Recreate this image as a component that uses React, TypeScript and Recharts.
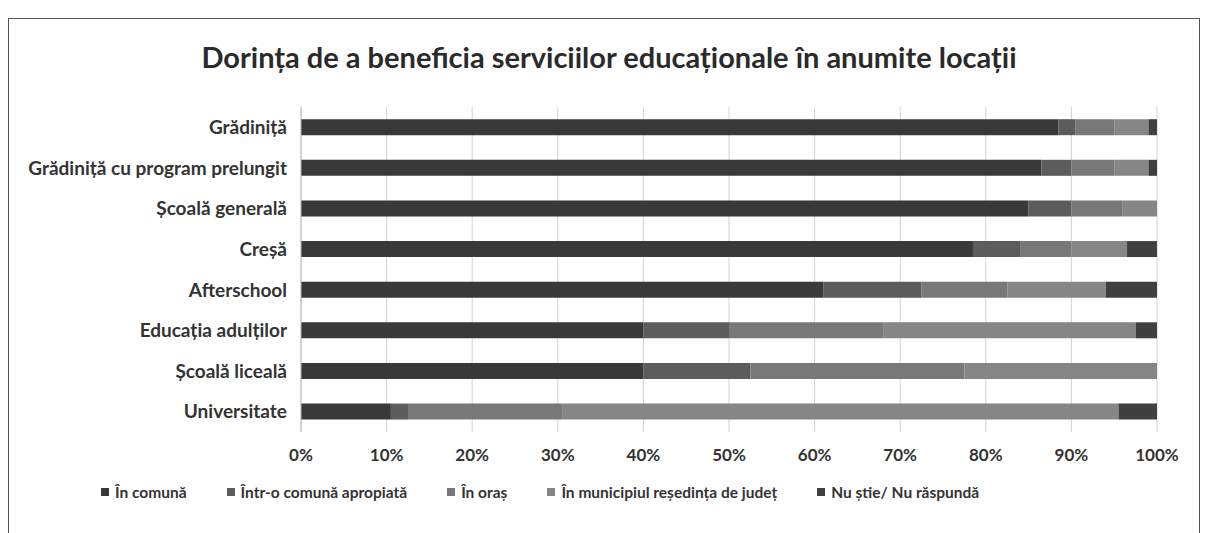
import { BarChart, Bar, XAxis, YAxis, CartesianGrid, Legend } from "recharts";

const categories = [
  "Grădiniță",
  "Grădiniță cu program prelungit",
  "Școală generală",
  "Creșă",
  "Afterschool",
  "Educația adulților",
  "Școală liceală",
  "Universitate",
];

const inComuna = [88.5, 86.5, 85, 78.5, 61, 40, 40, 10.5];
const inComunaApropiata = [2, 3.5, 5, 5.5, 11.5, 10, 12.5, 2];
const inOras = [4.5, 5, 6, 6, 10, 18, 25, 18];
const inMunicipiu = [4, 4, 4, 6.5, 11.5, 29.5, 22.5, 65];
const nuStie = [1, 1, 0, 3.5, 6, 2.5, 0, 4.5];

const xTicks = [0, 10, 20, 30, 40, 50, 60, 70, 80, 90, 100];

const SERIES = [
  { key: "comuna", name: "În comună", color: "#393939" },
  { key: "apropiata", name: "Într-o comună apropiată", color: "#5c5c5c" },
  { key: "oras", name: "În oraș", color: "#787878" },
  { key: "municipiu", name: "În municipiul reședința de județ", color: "#868686" },
  { key: "nuStie", name: "Nu știe/ Nu răspundă", color: "#404040" },
];

const data = categories.map((name, i) => ({
  name,
  comuna: inComuna[i],
  apropiata: inComunaApropiata[i],
  oras: inOras[i],
  municipiu: inMunicipiu[i],
  nuStie: nuStie[i],
}));

const FONT = "Lato, 'Open Sans', sans-serif";

const LegendContent = () => (
  <div style={{ display: "flex", gap: 40, fontFamily: FONT, fontWeight: 700, fontSize: 15.5, color: "#333" }}>
    {SERIES.map((s) => (
      <div key={s.key} style={{ display: "flex", alignItems: "center", gap: 6 }}>
        <span style={{ width: 8, height: 8, background: s.color, display: "inline-block" }} />
        <span>{s.name}</span>
      </div>
    ))}
  </div>
);

const App = () => {
  return (
    <div
      style={{
        position: "relative",
        marginTop: 10,
        width: 1190,
        height: 520,
        border: "1px solid #555",
        background: "#fff",
      }}
    >
      <div
        style={{
          position: "absolute",
          top: 20,
          left: 0,
          width: 1200,
          textAlign: "center",
          fontFamily: FONT,
          fontWeight: 700,
          fontSize: 29,
          color: "#2a2a2a",
        }}
      >
        Dorința de a beneficia serviciilor educaționale în anumite locații
      </div>
      <BarChart
        width={1190}
        height={500}
        data={data}
        layout="vertical"
        barCategoryGap="30%"
        margin={{ top: 88, right: 42, bottom: 29, left: 10 }}
      >
        <CartesianGrid horizontal={false} stroke="#d2d2d2" />
        <XAxis
          type="number"
          domain={[0, 100]}
          ticks={xTicks}
          tickFormatter={(v) => `${v}%`}
          axisLine={false}
          tickLine={false}
          tickMargin={11}
          height={40}
          tick={{ fontFamily: FONT, fontWeight: 700, fontSize: 17, fill: "#333" }}
        />
        <YAxis
          type="category"
          dataKey="name"
          width={282}
          axisLine={{ stroke: "#bbb" }}
          tickLine={false}
          tickMargin={8}
          tick={{ fontFamily: FONT, fontWeight: 700, fontSize: 19, fill: "#333" }}
        />
        <Legend
          content={<LegendContent />}
          wrapperStyle={{ left: 92, top: 464, width: "auto" }}
        />
        {SERIES.map((s) => (
          <Bar
            key={s.key}
            dataKey={s.key}
            name={s.name}
            stackId="a"
            fill={s.color}
            isAnimationActive={false}
          />
        ))}
      </BarChart>
    </div>
  );
};

export default App;
